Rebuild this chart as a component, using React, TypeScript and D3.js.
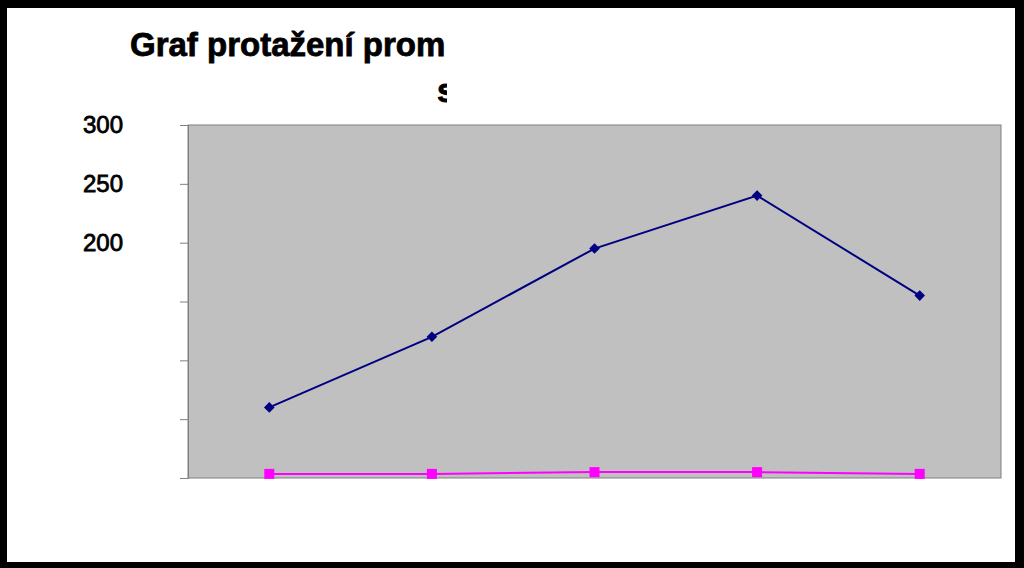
import React, { useRef, useEffect } from 'react';
import * as d3 from 'd3';

const categories = ['1', '2', '3', '4', '5'];
const seriesA = [60, 120, 195, 240, 155];
const seriesB = [3.5, 3.5, 5, 5, 3.5];
const yTicks = [0, 50, 100, 150, 200, 250, 300];
const yTickLabels = ['', '', '', '', '200', '250', '300'];
const titleLine1 = 'Graf protažení prom';
const titleLine2 = 's';

const App: React.FC = () => {
  const svgRef = useRef<SVGSVGElement | null>(null);

  useEffect(() => {
    if (!svgRef.current) return;
    const svg = d3.select(svgRef.current);
    svg.selectAll('*').remove();

    const width = 1024;
    const height = 568;
    const plot = { left: 188, top: 125, right: 1001, bottom: 478 };

    // frame
    svg.append('rect').attr('width', width).attr('height', height).attr('fill', '#000');
    svg.append('rect')
      .attr('x', 7).attr('y', 8)
      .attr('width', 1008).attr('height', 554)
      .attr('fill', '#fff');

    // title, cut off on the right like the original
    const defs = svg.append('defs');
    defs.append('clipPath').attr('id', 'titleClip')
      .append('rect').attr('x', 0).attr('y', 0).attr('width', 447).attr('height', 120);

    const title = svg.append('g').attr('clip-path', 'url(#titleClip)')
      .style('font-family', '"Liberation Sans", Arial, sans-serif')
      .style('font-weight', 'bold')
      .style('font-size', '33px')
      .attr('stroke', '#000')
      .attr('stroke-width', 0.8);
    title.append('text').attr('x', 130).attr('y', 56).text(titleLine1);
    title.append('text').attr('x', 437).attr('y', 102).text(titleLine2);

    const x = d3.scaleBand<string>()
      .domain(categories)
      .range([plot.left, plot.right]);

    const y = d3.scaleLinear()
      .domain([0, 300])
      .range([plot.bottom, plot.top]);

    svg.append('rect')
      .attr('x', plot.left).attr('y', plot.top)
      .attr('width', plot.right - plot.left)
      .attr('height', plot.bottom - plot.top)
      .attr('fill', '#c0c0c0')
      .attr('stroke', '#808080')
      .attr('stroke-width', 1);

    const yAxis = svg.append('g')
      .attr('transform', `translate(${plot.left},0)`)
      .call(d3.axisLeft(y).tickValues(yTicks).tickSize(8).tickPadding(57)
        .tickFormat((_d, i) => yTickLabels[i]));
    yAxis.select('.domain').attr('stroke', '#808080');
    yAxis.selectAll('.tick line').attr('stroke', '#808080');
    yAxis.selectAll('text')
      .attr('fill', '#000')
      .attr('stroke', '#000')
      .attr('stroke-width', 0.8)
      .style('font-family', '"Liberation Sans", Arial, sans-serif')
      .style('font-size', '24px');

    const cx = (c: string) => (x(c) ?? 0) + x.bandwidth() / 2;

    const line = d3.line<number>()
      .x((_d, i) => cx(categories[i]))
      .y(d => y(d));

    svg.append('path')
      .datum(seriesB)
      .attr('d', line)
      .attr('fill', 'none')
      .attr('stroke', '#ff00ff')
      .attr('stroke-width', 2);

    svg.selectAll('.sq')
      .data(seriesB)
      .enter()
      .append('rect')
      .attr('class', 'sq')
      .attr('x', (_d, i) => cx(categories[i]) - 5)
      .attr('y', d => y(d) - 5)
      .attr('width', 10)
      .attr('height', 10)
      .attr('fill', '#ff00ff');

    svg.append('path')
      .datum(seriesA)
      .attr('d', line)
      .attr('fill', 'none')
      .attr('stroke', '#000080')
      .attr('stroke-width', 2);

    const diamond = d3.symbol().type(d3.symbolDiamond2).size(72);
    svg.selectAll('.dm')
      .data(seriesA)
      .enter()
      .append('path')
      .attr('class', 'dm')
      .attr('d', diamond)
      .attr('transform', (d, i) => `translate(${cx(categories[i])},${y(d)})`)
      .attr('fill', '#000080');
  }, []);

  return (
    <div style={{ position: 'absolute', left: 0, top: 0 }}>
      <svg ref={svgRef} width={1024} height={568} style={{ display: 'block' }} />
    </div>
  );
};

export default App;
